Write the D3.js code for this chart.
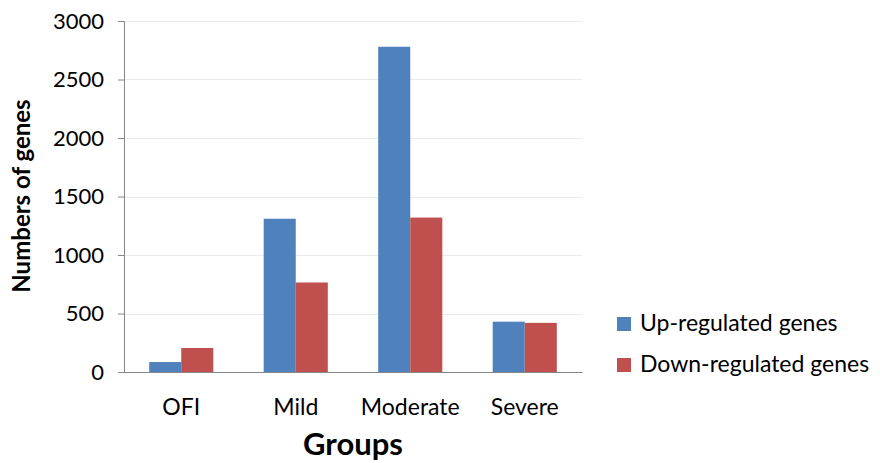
<!DOCTYPE html>
<html>
<head>
<meta charset="utf-8">
<script src="https://cdn.jsdelivr.net/npm/d3@7"></script>
<style>
  body { margin: 0; background: #fff; }
  svg text { font-family: Lato, "Open Sans", sans-serif; fill: #000; }
</style>
</head>
<body>
<svg id="chart" width="880" height="463"></svg>
<script>
const categories = ["OFI", "Mild", "Moderate", "Severe"];
const seriesNames = ["Up-regulated genes", "Down-regulated genes"];
const upValues = [85, 1310, 2780, 430];
const downValues = [205, 765, 1320, 420];
const yTicks = [0, 500, 1000, 1500, 2000, 2500, 3000];
const colors = ["#4F81BD", "#C0504D"];

const svg = d3.select("#chart");
const margin = { left: 124, right: 298, top: 21, bottom: 91 };
const width = 880 - margin.left - margin.right;
const height = 463 - margin.top - margin.bottom;

const g = svg.append("g").attr("transform", `translate(${margin.left},${margin.top})`);

const x0 = d3.scaleBand().domain(categories).range([0, width]).paddingInner(0.44).paddingOuter(0.22);
const x1 = d3.scaleBand().domain([0, 1]).range([0, x0.bandwidth()]);
const y = d3.scaleLinear().domain([0, 3000]).range([height, 0]);

// gridlines
g.selectAll(".grid").data(yTicks.filter(d => d > 0)).enter().append("line")
  .attr("x1", 0).attr("x2", width)
  .attr("y1", d => Math.round(y(d)) + 0.5).attr("y2", d => Math.round(y(d)) + 0.5)
  .attr("stroke", "#ebebeb").attr("stroke-width", 1.2);

const data = categories.map((c, i) => ({ cat: c, vals: [upValues[i], downValues[i]] }));

const groups = g.selectAll(".grp").data(data).enter().append("g")
  .attr("transform", d => `translate(${x0(d.cat)},0)`);
groups.selectAll("rect").data(d => d.vals.map((v, k) => ({ v, k }))).enter().append("rect")
  .attr("x", d => x1(d.k)).attr("width", x1.bandwidth())
  .attr("y", d => y(d.v)).attr("height", d => height - y(d.v))
  .attr("fill", d => colors[d.k]);

// y axis
const yAxis = d3.axisLeft(y).tickValues(yTicks).tickSize(6).tickPadding(14).tickFormat(d3.format("d"));
const ya = g.append("g").call(yAxis);
ya.select(".domain").attr("stroke", "#868686");
ya.selectAll(".tick line").attr("stroke", "#868686");
ya.selectAll("text").style("font-size", "22px").attr("fill", "#000");

// x axis
const xa = g.append("g").attr("transform", `translate(0,${height})`)
  .call(d3.axisBottom(x0).tickSize(0).tickPadding(27));
xa.select(".domain").attr("stroke", "#868686");
xa.selectAll("text").style("font-size", "23px").attr("fill", "#000");

// axis titles
svg.append("text").attr("transform", "translate(30,196) rotate(-90)")
  .attr("text-anchor", "middle").style("font-size", "24px").style("font-weight", "bold")
  .text("Numbers of genes");
svg.append("text").attr("x", 353).attr("y", 455)
  .attr("text-anchor", "middle").style("font-size", "31px").style("font-weight", "bold")
  .text("Groups");

// legend
const lg = svg.append("g").attr("transform", "translate(617,317)");
seriesNames.forEach((s, i) => {
  const row = lg.append("g").attr("transform", `translate(0,${i * 41})`);
  row.append("rect").attr("width", 14).attr("height", 14).attr("fill", colors[i]);
  row.append("text").attr("x", 23).attr("y", 14).style("font-size", "23px").text(s);
});
</script>
</body>
</html>
